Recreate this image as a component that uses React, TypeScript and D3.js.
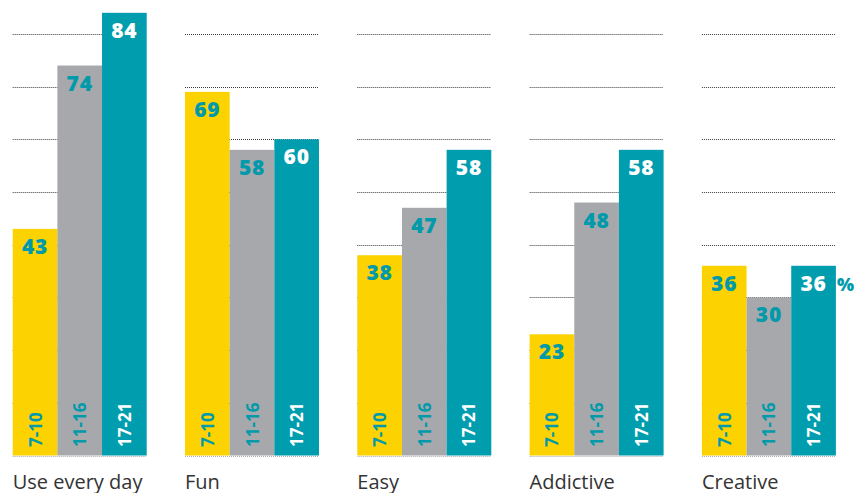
import React from "react";
import * as d3 from "d3";

const categories = ["Use every day", "Fun", "Easy", "Addictive", "Creative"];
const ageGroups = ["7-10", "11-16", "17-21"];
const values7to10 = [43, 69, 38, 23, 36];
const values11to16 = [74, 58, 47, 48, 30];
const values17to21 = [84, 60, 58, 58, 36];
const gridTicks = [0, 10, 20, 30, 40, 50, 60, 70, 80];
const unitLabel = "%";

const W = 856;
const H = 493;
const FONT = "'Open Sans', 'Noto Sans', sans-serif";
const COLORS = ["#FCD200", "#A7A8AB", "#009DAE"];
const TEAL_TEXT = "#009AAB";
const LABEL_COLORS = [TEAL_TEXT, TEAL_TEXT, "#FFFFFF"];

export default function App() {
  const series = [values7to10, values11to16, values17to21];
  const step = 172.3;
  const bw = 134;
  const x0 = d3
    .scaleBand<string>()
    .domain(categories)
    .range([12.7, 12.7 + step * (categories.length - 1) + bw])
    .paddingInner(1 - bw / step)
    .paddingOuter(0);
  const x1 = d3.scaleBand<string>().domain(ageGroups).range([0, x0.bandwidth()]);
  const y = d3.scaleLinear().domain([0, 100]).range([455.5, 455.5 - 527]);

  return (
    <svg
      width={W}
      height={H}
      style={{ position: "absolute", left: 0, top: 0, background: "#fff" }}
      fontFamily={FONT}
    >
      {categories.map((cat, ci) => {
        const gx = x0(cat)!;
        return (
          <g key={cat} transform={`translate(${gx},0)`}>
            {gridTicks.map((t) => (
              <line
                key={t}
                x1={0}
                x2={x0.bandwidth()}
                y1={Math.round(y(t)) + 0.5}
                y2={Math.round(y(t)) + 0.5}
                stroke="#333"
                strokeWidth={1}
                strokeDasharray="1,1"
                opacity={t === 0 ? 0.4 : 0.95}
              />
            ))}
            {ageGroups.map((age, ai) => {
              const v = series[ai][ci];
              const bx = x1(age)!;
              const bwid = x1.bandwidth();
              const top = y(v);
              return (
                <g key={age}>
                  <rect x={bx} y={top} width={bwid} height={y(0) - top} fill={COLORS[ai]} />
                  <text
                    x={bx + bwid / 2}
                    y={top + 25}
                    textAnchor="middle"
                    fontSize={21}
                    fontWeight={800}
                    letterSpacing={0.8}
                    fill={LABEL_COLORS[ai]}
                  >
                    {v}
                  </text>
                  <text
                    transform={`translate(${bx + bwid / 2 + 6.5},${447}) rotate(-90)`}
                    textAnchor="start"
                    fontSize={17}
                    fontWeight={700}
                    fill={LABEL_COLORS[ai]}
                  >
                    {age}
                  </text>
                  {ci === categories.length - 1 && ai === ageGroups.length - 1 ? (
                    <text
                      x={bx + bwid + 1}
                      y={top + 25}
                      fontSize={18}
                      fontWeight={800}
                      fill={TEAL_TEXT}
                    >
                      {unitLabel}
                    </text>
                  ) : null}
                </g>
              );
            })}
            <text x={0} y={488.5} fontSize={20} fill="#333">
              {cat}
            </text>
          </g>
        );
      })}
    </svg>
  );
}
